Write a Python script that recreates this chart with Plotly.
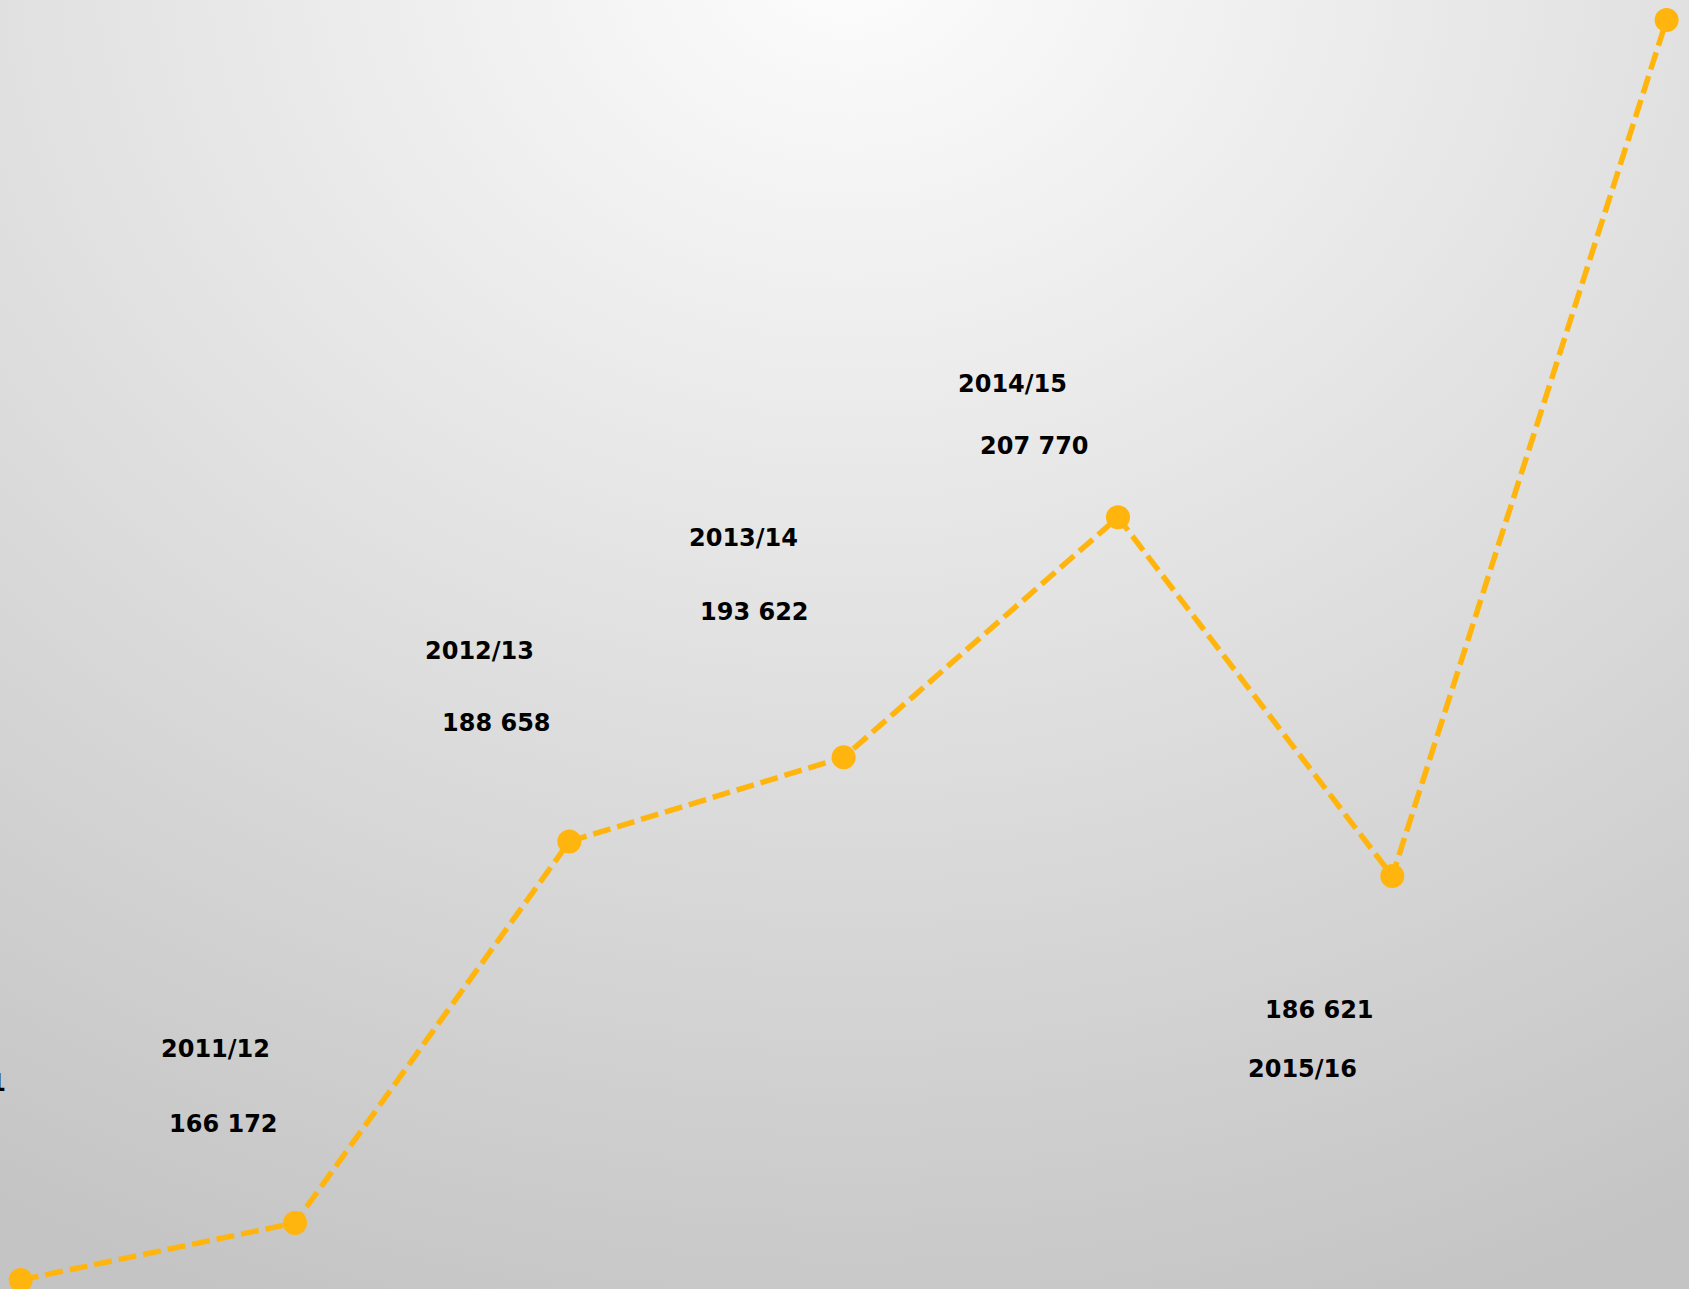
import base64
import plotly.graph_objects as go

# ---- data ----
years = ["2010/11", "2011/12", "2012/13", "2013/14", "2014/15", "2015/16", "2016/17"]
values = [162813, 166172, 188658, 193622, 207770, 186621, 237090]
value_labels = ["162 813", "166 172", "188 658", "193 622", "207 770", "186 621", "237 090"]

# ---- label offsets in pixels (dx, dy with dy positive = down) ----
year_offsets = [(-69, -197), (-80, -174), (-90, -191), (-100, -219), (-105, -133), (-90, 193), None]
value_offsets = [(-73, -118), (-72, -99), (-73, -119), (-89, -145), (-83, -71), (-73, 134), None]

W, H = 1689, 1289
LINE_COLOR = "#FFB50D"

x_idx = list(range(len(years)))

fig = go.Figure()
fig.add_trace(go.Scatter(
    x=x_idx, y=values, mode="lines+markers",
    line=dict(color=LINE_COLOR, width=5.5, dash="18px,7px"),
    marker=dict(color=LINE_COLOR, size=24, line=dict(width=0)),
    hoverinfo="skip", showlegend=False, cliponaxis=False,
))

font = dict(family="DejaVu Sans, Verdana, sans-serif", size=24, color="#000000")
annotations = []
for i in x_idx:
    for txt, off in ((years[i], year_offsets[i]), (value_labels[i], value_offsets[i])):
        if off is None:
            continue
        annotations.append(dict(
            x=i, y=values[i], xref="x", yref="y",
            text="<b>%s</b>" % txt, showarrow=False,
            xanchor="center", yanchor="middle",
            xshift=off[0], yshift=-off[1], font=font,
        ))

svg = f'''<svg xmlns="http://www.w3.org/2000/svg" width="{W}" height="{H}" viewBox="0 0 {W} {H}" preserveAspectRatio="none">
<defs><radialGradient id="g" gradientUnits="userSpaceOnUse" cx="0" cy="0" r="1"
 gradientTransform="translate(850,-50) scale(1700,1450)">
<stop offset="0" stop-color="#fdfdfd"/><stop offset="1" stop-color="#c4c4c4"/>
</radialGradient></defs>
<rect x="0" y="0" width="{W}" height="{H}" fill="url(#g)"/></svg>'''
src = "data:image/svg+xml;base64," + base64.b64encode(svg.encode()).decode()

fig.update_layout(
    width=W, height=H, autosize=False,
    margin=dict(l=0, r=0, t=0, b=0, pad=0),
    paper_bgcolor="#dcdcdc", plot_bgcolor="rgba(0,0,0,0)",
    xaxis=dict(range=[-0.0755, 6.0816], visible=False, showgrid=False, zeroline=False, fixedrange=True),
    yaxis=dict(range=[162278, 238265], visible=False, showgrid=False, zeroline=False, fixedrange=True),
    images=[dict(source=src, xref="paper", yref="paper", x=0, y=1, sizex=1, sizey=1,
                 xanchor="left", yanchor="top", sizing="stretch", layer="below")],
    annotations=annotations,
)

fig.write_html("out.html", config={"displayModeBar": False},
               post_script="document.body.style.margin='0';document.body.style.overflow='hidden';")
